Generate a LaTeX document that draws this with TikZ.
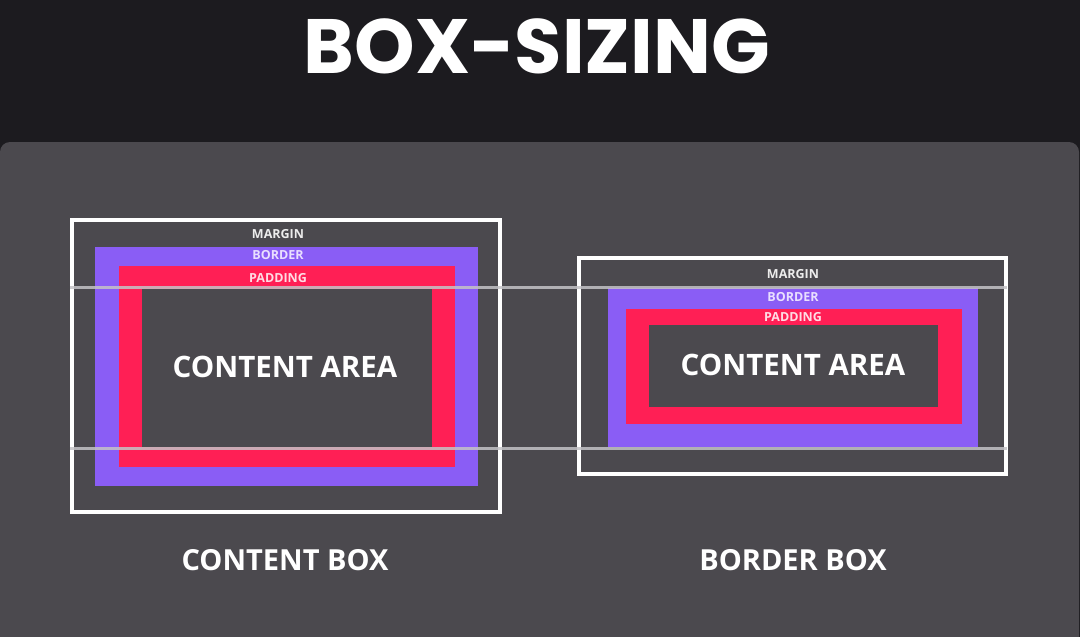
\documentclass[tikz,border=0pt]{standalone}
\usepackage{fontspec}
\setmainfont{Open Sans}
\newfontfamily\titlefont{Poppins}
\definecolor{bgdark}{HTML}{1C1B1F}
\definecolor{panelgrey}{HTML}{4B494E}
\definecolor{borderpurple}{HTML}{8A5DF5}
\definecolor{paddingred}{HTML}{FF1F55}
\definecolor{guidegrey}{HTML}{C4C3C6}
\definecolor{marginlabel}{HTML}{ECECEC}
\definecolor{borderlabel}{HTML}{E9DFFF}
\definecolor{paddinglabel}{HTML}{FFDCE4}
\begin{document}
\begin{tikzpicture}[x=1pt, y=-1pt,
    layerlabel/.style={font=\bfseries\fontsize{12.5}{12.5}\selectfont},
    arealabel/.style={font=\bfseries\fontsize{29.5}{29.5}\selectfont, text=white},
    boxname/.style={font=\bfseries\fontsize{29}{29}\selectfont, text=white},
    marginframe/.style={draw=white, line width=4pt},
    guideline/.style={draw=guidegrey, line width=3pt, opacity=0.85}]
    \useasboundingbox (0,0) rectangle (1080,637);
    \clip (0,0) rectangle (1080,637);
    % Background and panel
    \fill[bgdark] (0,0) rectangle (1080,637);
    \fill[panelgrey, rounded corners=10pt] (0,142) rectangle (1079,680);
    \node[font=\titlefont\bfseries\fontsize{77}{77}\selectfont, text=white] (title) at (537,46) {BOX-SIZING};

    % Content box (left)
    \fill[borderpurple] (95,247) rectangle (478,486);
    \fill[paddingred] (119,266) rectangle (455,467);
    \fill[panelgrey] (142,289) rectangle (432,447);
    \draw[marginframe] (72,220) rectangle (500,512);

    % Border box (right)
    \fill[borderpurple] (608,288) rectangle (978,447);
    \fill[paddingred] (626,309) rectangle (962,424);
    \fill[panelgrey] (649,325) rectangle (938,407);
    \draw[marginframe] (579,258) rectangle (1006,474);

    % Guide lines
    \coordinate (topguideA) at (70,287.5);
    \coordinate (topguideB) at (1007,287.5);
    \coordinate (botguideA) at (70,448);
    \coordinate (botguideB) at (1007,448);
    \draw[guideline] (topguideA) -- (topguideB);
    \draw[guideline] (botguideA) -- (botguideB);

    % Labels, left
    \node[layerlabel, text=marginlabel] (lmargin) at (278,234) {MARGIN};
    \node[layerlabel, text=borderlabel] (lborder) at (278,255) {BORDER};
    \node[layerlabel, text=paddinglabel] (lpadding) at (278,278) {PADDING};
    \node[arealabel] (larea) at (285,367) {CONTENT AREA};
    \node[boxname] (lname) at (285,560) {CONTENT BOX};

    % Labels, right
    \node[layerlabel, text=marginlabel] (rmargin) at (793,274) {MARGIN};
    \node[layerlabel, text=borderlabel] (rborder) at (793,297) {BORDER};
    \node[layerlabel, text=paddinglabel] (rpadding) at (793,317) {PADDING};
    \node[arealabel] (rarea) at (793,365) {CONTENT AREA};
    \node[boxname] (rname) at (793,560) {BORDER BOX};
\end{tikzpicture}
\end{document}
